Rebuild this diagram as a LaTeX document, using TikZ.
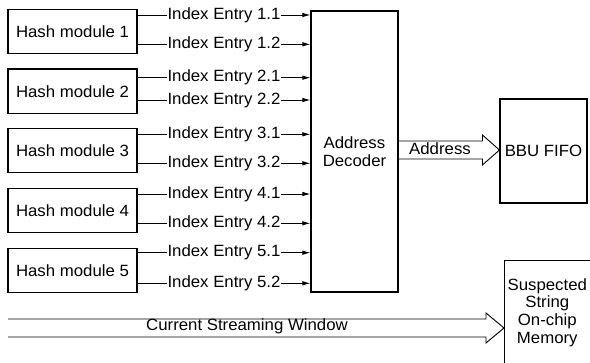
\documentclass[tikz,border=0pt]{standalone}
\usepackage{fontspec}
\setmainfont{Liberation Sans}[FakeStretch=1.03]
\usetikzlibrary{arrows.meta,calc}
\begin{document}
\begin{tikzpicture}[x=1pt,y=-1pt,
  txt/.style={font=\fontsize{16.3}{17.8}\selectfont},
  box/.style={draw, line width=1.1pt, inner sep=0pt, align=center, txt},
  hm/.style={box, minimum width=129pt, minimum height=44.5pt},
  ent/.style={draw, line width=0.9pt, -{Latex[length=8pt,width=4.5pt]}},
  lab/.style={fill=white, inner xsep=1pt, inner ysep=1pt, txt},
  fat/.style={draw, line width=0.9pt}]
\useasboundingbox (0,0) rectangle (590,363);
% hash modules
\node[hm] (h1) at (72.5,31.7) {Hash module 1};
\node[hm] (h2) at (72.5,91.3) {Hash module 2};
\node[hm] (h3) at (72.5,150.7) {Hash module 3};
\node[hm] (h4) at (72.5,210.5) {Hash module 4};
\node[hm] (h5) at (72.5,270.5) {Hash module 5};
% decoder
\node[box, minimum width=87pt, minimum height=281pt] (dec) at (354.5,151.5) {Address\\Decoder};
% BBU FIFO
\node[box, minimum width=87pt, minimum height=104pt] (bbu) at (543.5,151) {BBU FIFO};
% memory
\node[box, anchor=north west, minimum width=85.5pt, minimum height=104pt] (mem) at (504,260) {Suspected\\String\\On-chip\\Memory};
% entries
\foreach \i/\j/\y in {1/1/15, 1/2/44.3, 2/1/77.7, 2/2/100, 3/1/134.3, 3/2/163.3, 4/1/194, 4/2/223.3, 5/1/252.7, 5/2/283.3}{
  \coordinate (c\i\j) at (0,\y);
  \draw[ent] (h\i.east |- c\i\j) -- node[lab] (l\i\j) {Index Entry \i.\j} (dec.west |- c\i\j);
}
% address fat arrow
\path (dec.east) ++(0,-1.5) coordinate (as);
\coordinate (at) at (bbu.west |- as);
\draw[fat] ($(as)+(0,-9)$) -- ($(at)+(-17,-9)$) -- ($(at)+(-17,-15)$) -- (at) -- ($(at)+(-17,15)$) -- ($(at)+(-17,9)$) -- ($(as)+(0,9)$);
\node[txt] (alab) at (440,149) {Address};
% streaming window
\coordinate (sw) at (8,328);
\coordinate (st) at (mem.west |- sw);
\draw[fat] ($(sw)+(0,-9)$) -- ($(st)+(-18,-9)$) -- ($(st)+(-18,-15)$) -- (st) -- ($(st)+(-18,15)$) -- ($(st)+(-18,9)$) -- ($(sw)+(0,9)$);
\node[txt] (slab) at (247,326.5) {Current Streaming Window};
\end{tikzpicture}
\end{document}
